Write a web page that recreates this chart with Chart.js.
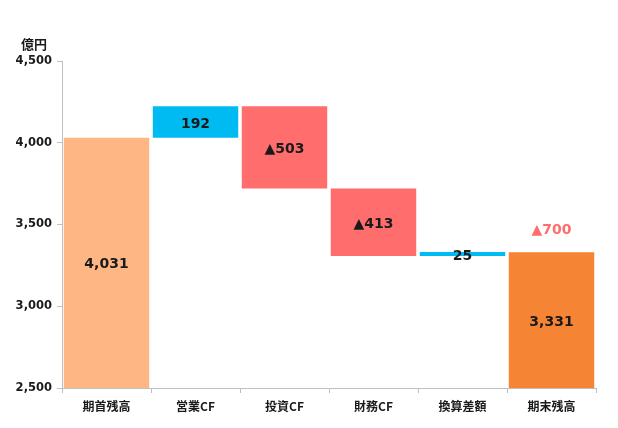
<!DOCTYPE html>
<html><head><meta charset="utf-8">
<script src="https://cdn.jsdelivr.net/npm/chart.js@4/dist/chart.umd.min.js"></script>
<style>html,body{margin:0;padding:0;background:#fff}#wrap{width:618px;height:428px}</style>
</head><body><div id="wrap"><canvas id="c" width="618" height="428"></canvas></div>
<script>
const categories = ['期首残高','営業CF','投資CF','財務CF','換算差額','期末残高'];
const changes = [4031, 192, -503, -413, 25, 3331];
const valueLabels = ['4,031','192','▲503','▲413','25','3,331'];
const barColors = ['#FFB685','#00BBF2','#FF6D6D','#FF6D6D','#00BBF2','#F58535'];
const netChangeLabel = '▲700';
const unitLabel = '億円';
const yMin = 2500, yMax = 4500, yStep = 500;

// floating ranges from the running total
const ranges = [];
let run = 0;
changes.forEach((v, i) => {
  if (i === 0 || i === changes.length - 1) { ranges.push([0, v]); run = v; }
  else { ranges.push([run, run + v]); run += v; }
});

const NUM = "'DejaVu Sans','Noto Sans CJK JP',sans-serif";
const JP = "'Noto Sans CJK JP','DejaVu Sans',sans-serif";

const labelPlugin = {
  id: 'labels',
  afterDatasetsDraw(chart) {
    const ctx = chart.ctx;
    const meta = chart.getDatasetMeta(0);
    const y = chart.scales.y;
    ctx.save();
    ctx.font = "bold 14px " + NUM;
    ctx.textAlign = 'center';
    ctx.textBaseline = 'middle';
    ctx.fillStyle = '#1a1a1a';
    meta.data.forEach((bar, i) => {
      const r = ranges[i];
      const lo = Math.max(Math.min(r[0], r[1]), yMin);
      const hi = Math.max(r[0], r[1]);
      const cy = (y.getPixelForValue(lo) + y.getPixelForValue(hi)) / 2;
      ctx.fillText(valueLabels[i], bar.x, cy + 2);
    });
    // net change annotation above final bar
    const last = meta.data[meta.data.length - 1];
    ctx.fillStyle = '#FF6D6D';
    ctx.fillText(netChangeLabel, last.x, y.getPixelForValue(ranges[ranges.length-1][1]) - 22);
    // unit label
    ctx.fillStyle = '#1a1a1a';
    ctx.font = "bold 13px " + JP;
    ctx.fillText(unitLabel, 34, 44);
    ctx.restore();
  }
};

new Chart(document.getElementById('c'), {
  type: 'bar',
  data: {
    labels: categories,
    datasets: [{
      data: ranges,
      backgroundColor: barColors,
      borderWidth: 0,
      barPercentage: 0.96,
      categoryPercentage: 1.0
    }]
  },
  options: {
    responsive: false,
    animation: false,
    devicePixelRatio: 1,
    layout: { padding: { left: 0, right: 22, top: 61, bottom: 0 } },
    plugins: { legend: { display: false }, tooltip: { enabled: false } },
    scales: {
      y: {
        min: yMin, max: yMax,
        ticks: {
          stepSize: yStep,
          color: '#1a1a1a',
          font: { family: NUM, weight: 'bold', size: 11.5 },
          padding: 5,
          callback: v => v.toLocaleString('en-US')
        },
        grid: { drawOnChartArea: false, tickLength: 5, color: '#BFBFBF' },
        border: { color: '#BFBFBF', width: 1 },
        afterFit(s) { s.width = 62; }
      },
      x: {
        ticks: {
          color: '#1a1a1a',
          font: { family: JP, weight: 'bold', size: 12 },
          padding: 6
        },
        grid: { drawOnChartArea: false, tickLength: 5, color: '#BFBFBF', offset: true },
        border: { color: '#BFBFBF', width: 1 },
        afterFit(s) { s.height = 40; }
      }
    }
  },
  plugins: [labelPlugin]
});
</script></body></html>
